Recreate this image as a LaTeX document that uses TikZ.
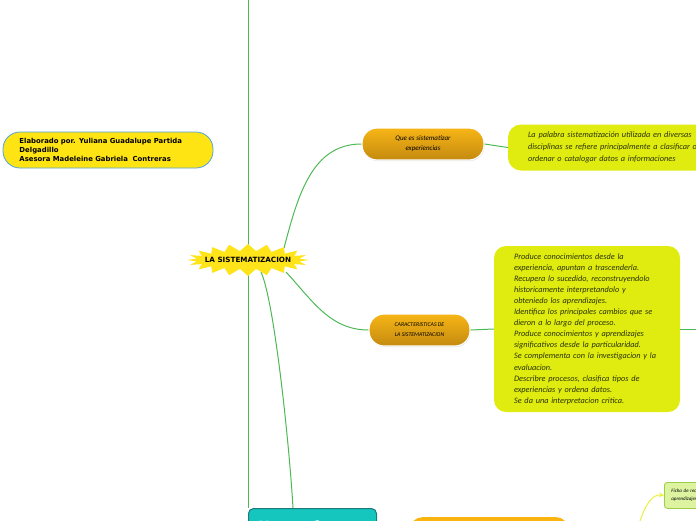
\documentclass[tikz,border=0pt]{standalone}
\usepackage{fontspec}
\setmainfont{Carlito}
\newfontfamily\dvs{DejaVu Sans}
\usetikzlibrary{shadows,arrows.meta,calc}
\definecolor{conn}{HTML}{4DB855}
\definecolor{starcol}{HTML}{FFE41A}
\definecolor{leftfill}{HTML}{FFE414}
\definecolor{leftborder}{HTML}{4DA3DC}
\definecolor{otop}{HTML}{F7B516}
\definecolor{obot}{HTML}{C48A10}
\definecolor{limefill}{HTML}{E0EC10}
\definecolor{limetext}{HTML}{2A3306}
\definecolor{tealfill}{HTML}{14C6BE}
\definecolor{tealborder}{HTML}{1E7A7A}
\definecolor{orangefill}{HTML}{F9B40F}
\definecolor{lgfill}{HTML}{DDF3A0}
\definecolor{lgborder}{HTML}{9BCF4A}
\definecolor{yarrow}{HTML}{E8F23C}
\tikzset{
  connector/.style={draw=conn, line width=1pt},
  pill/.style={rectangle, rounded corners=15pt, top color=otop, bottom color=obot,
    draw=white, line width=1.2pt, drop shadow={opacity=0.25, shadow xshift=0.6pt, shadow yshift=-1pt},
    align=center, inner sep=0pt, font=\itshape\color{black}},
  limebox/.style={rectangle, rounded corners=13pt, fill=limefill, inner ysep=0pt, align=left,
    font=\itshape\color{limetext}},
}
\begin{document}
\begin{tikzpicture}[x=1pt,y=-1pt]
\useasboundingbox (0,0) rectangle (696,520);
\clip (0,0) rectangle (696,520);

% named nodes
\node[rectangle, minimum width=120pt, minimum height=30pt, inner sep=0pt] (star) at (248,260) {};
\node[pill, minimum width=122pt, minimum height=32pt, font=\itshape\fontsize{7}{10}\selectfont] (que) at (423,144) {Que es sistematizar\\experiencias};
\node[pill, minimum width=101pt, minimum height=32pt, font=\itshape\fontsize{5.8}{10}\selectfont] (car) at (419.5,330) {CARACTERISTICAS DE\\LA SISTEMATIZACION};
\node[limebox, minimum width=240pt, minimum height=46pt, text width=200pt, inner xsep=20pt,
  font=\itshape\color{limetext}\fontsize{8.3}{12}\selectfont] (tb1) at (628,147.5)
  {La palabra sistematización utilizada en diversas\\disciplinas se refiere principalmente a clasificar o\\ordenar o catalogar datos a informaciones};
\node[limebox, rounded corners=12pt, minimum width=186pt, minimum height=166pt, text width=156pt, inner xsep=15pt,
  font=\itshape\color{limetext}\fontsize{8.3}{11.1}\selectfont] (tb2) at (587,329)
  {\hspace*{5pt}\begin{minipage}{151pt}\raggedright
   Produce conocimientos desde la\\
   experiencia, apuntan a trascenderla.\\
   Recupera lo sucedido, reconstruyendolo\\
   historicamente interpretandolo y\\
   obteniedo los aprendizajes.\\
   Identifica los principales cambios que se\\
   dieron a lo largo del proceso.\\
   Produce conocimientos y aprendizajes\\
   significativos desde la particularidad.\\
   Se complementa con la investigacion y la\\
   evaluacion.\\
   Describre procesos, clasifica tipos de\\
   experiencias y ordena datos.\\
   Se da una interpretacion critica.\end{minipage}};
\node[rectangle, rounded corners=17pt, fill=leftfill, draw=leftborder, line width=0.8pt,
  minimum width=210pt, minimum height=36pt, text width=185pt, inner xsep=12.5pt, align=left,
  font=\dvs\bfseries\fontsize{6.9}{9}\selectfont] (auth) at (108,150)
  {\hspace*{4pt}Elaborado por. Yuliana Guadalupe Partida\\\hspace*{4pt}Delgadillo\\\hspace*{4pt}Asesora Madeleine Gabriela\ \ Contreras};
\node[rectangle, anchor=north west, rounded corners=5pt, fill=tealfill, draw=tealborder, line width=1pt,
  minimum width=128pt, minimum height=50pt] (teal) at (248,508) {};
\node[anchor=base west, inner sep=0pt, text=white, font=\dvs\bfseries\fontsize{14}{16}\selectfont] (tealtext) at (258,531) {Nuevo formato};
\node[rectangle, anchor=north west, rounded corners=12pt, fill=orangefill, minimum width=158pt, minimum height=40pt] (obox) at (410,517) {};
\node[rectangle, anchor=north west, rounded corners=3pt, fill=lgfill, draw=lgborder, line width=0.8pt,
  minimum width=84pt, minimum height=26pt, text width=70pt, inner xsep=7pt, align=left,
  font=\itshape\fontsize{5}{7.5}\selectfont] (ficha) at (664,482) {Ficha de recuperación de\\aprendizajes};

\coordinate (top) at (248,0);
\coordinate (rightend) at (696,329);
\coordinate (ystart) at (640,521);

% connectors
\draw[connector] (top) -- (teal.north west);
\draw[connector] ($(star.center)+(36,-12)$) .. controls (298,195) and (312,144) .. (que.west);
\draw[connector] ($(star.center)+(38,12)$) .. controls (312,300) and (330,330) .. (car.west);
\draw[connector] ($(star.center)+(13,12)$) .. controls (274,300) and (289,440) .. ($(teal.north west)+(45,0)$);
\draw[connector] (que.east) -- (tb1.west);
\draw[connector] (car.east) -- (tb2.west);
\draw[connector] (tb2.east) -- (rightend);
\draw[draw=yarrow, line width=1pt, -{Stealth[length=5pt,width=5pt]}] (ystart) .. controls (646,503) and (653,494) .. (ficha.west);

% star
\fill[starcol] plot[domain=0:360, samples=41]
  ({248+(52+9*(0.5+0.5*cos(20*\x)))*cos(\x)}, {260+(9+7*(0.5+0.5*cos(20*\x)))*sin(\x)}) -- cycle;
\node[font=\dvs\bfseries\fontsize{7.2}{8}\selectfont, text=black] (startext) at (star.center) {LA SISTEMATIZACION};
\end{tikzpicture}
\end{document}
